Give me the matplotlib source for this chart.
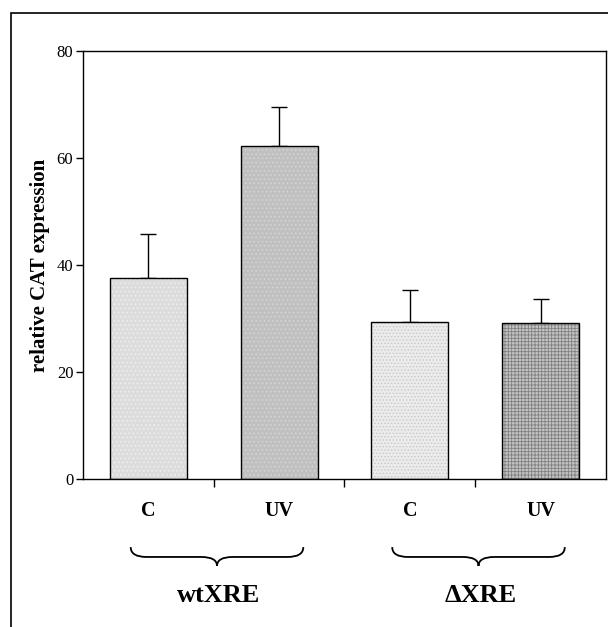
import matplotlib.pyplot as plt
import matplotlib.transforms as mtransforms
from matplotlib.patches import Rectangle, PathPatch
from matplotlib.path import Path

# data
categories = ['C', 'UV', 'C', 'UV']
groups = ['wtXRE', '\u0394XRE']
values = [37.6, 62.2, 29.3, 29.1]
errors = [8.2, 7.3, 6.0, 4.5]
y_ticks = [0, 20, 40, 60, 80]

face_colors = ['#dcdcdc', '#c0c0c0', '#ebebeb', '#c4c4c4']
hatch_colors = ['#f0f0f0', '#d6d6d6', '#c8c8c8', '#808080']
hatches = ['....', '....', '.....', '+++++']

plt.rcParams['font.family'] = ['Liberation Serif', 'DejaVu Serif']
plt.rcParams['hatch.linewidth'] = 0.6

fig = plt.figure(figsize=(6.08, 6.27), dpi=100)
ax = fig.add_axes([0.1365, 0.236, 0.8602, 0.683])

x = list(range(len(values)))

# fill with pattern, then the black outline on top
ax.bar(x, values, width=0.59, color=face_colors, edgecolor=hatch_colors,
       hatch=hatches, linewidth=0, zorder=2)
ax.bar(x, values, width=0.59, fill=False, edgecolor='black', linewidth=1.0, zorder=3)
ax.errorbar(x, values, yerr=[[0] * len(errors), errors], fmt='none',
            ecolor='black', elinewidth=1.0, capsize=6, capthick=1.0, zorder=1)

ax.set_xlim(-0.5, len(values) - 0.5)
ax.set_ylim(0, 80)
ax.set_yticks(y_ticks)
ax.tick_params(axis='y', direction='out', length=5, width=1, labelsize=12, pad=2)

# ticks at category boundaries, labels at centres
ax.set_xticks([i + 0.5 for i in x[:-1]])
ax.set_xticklabels([])
ax.set_xticks(x, minor=True)
ax.set_xticklabels(categories, minor=True, fontsize=14.5, fontweight='bold')
ax.tick_params(axis='x', which='major', direction='out', length=6, width=1)
ax.tick_params(axis='x', which='minor', length=0, pad=16)

for sp in ax.spines.values():
    sp.set_linewidth(1.0)

ax.set_ylabel('relative CAT expression', fontsize=15, fontweight='bold', labelpad=5)

# curly braces under the two groups
trans = mtransforms.blended_transform_factory(ax.transData, ax.transAxes)
y_top, y_mid, y_bot = -0.159, -0.182, -0.203
half = 0.66
r = 0.12
for g, name in enumerate(groups):
    xc = 2 * g + 0.5 + 0.025
    x0, x1 = xc - half, xc + half
    verts = [
        (x0, y_top), (x0, y_mid), (x0 + r, y_mid),
        (xc - r, y_mid), (xc, y_mid), (xc, y_bot),
        (xc, y_mid), (xc + r, y_mid),
        (x1 - r, y_mid), (x1, y_mid), (x1, y_top),
    ]
    codes = [Path.MOVETO, Path.CURVE3, Path.CURVE3,
             Path.LINETO, Path.CURVE3, Path.CURVE3,
             Path.CURVE3, Path.CURVE3,
             Path.LINETO, Path.CURVE3, Path.CURVE3]
    brace = PathPatch(Path(verts, codes), transform=trans, fill=False,
                      edgecolor='black', linewidth=1.3, clip_on=False)
    ax.add_patch(brace)
    ax.text(xc + 0.015, -0.272, name, transform=trans, ha='center', va='center',
            fontsize=19, fontweight='bold')

# outer frame of the picture
fig.patches.append(Rectangle((11 / 608, -0.1), 1.2, (627 - 13) / 627 + 0.1,
                             transform=fig.transFigure, fill=False,
                             edgecolor='black', linewidth=1.2))

fig.savefig('out.png', dpi=100)
